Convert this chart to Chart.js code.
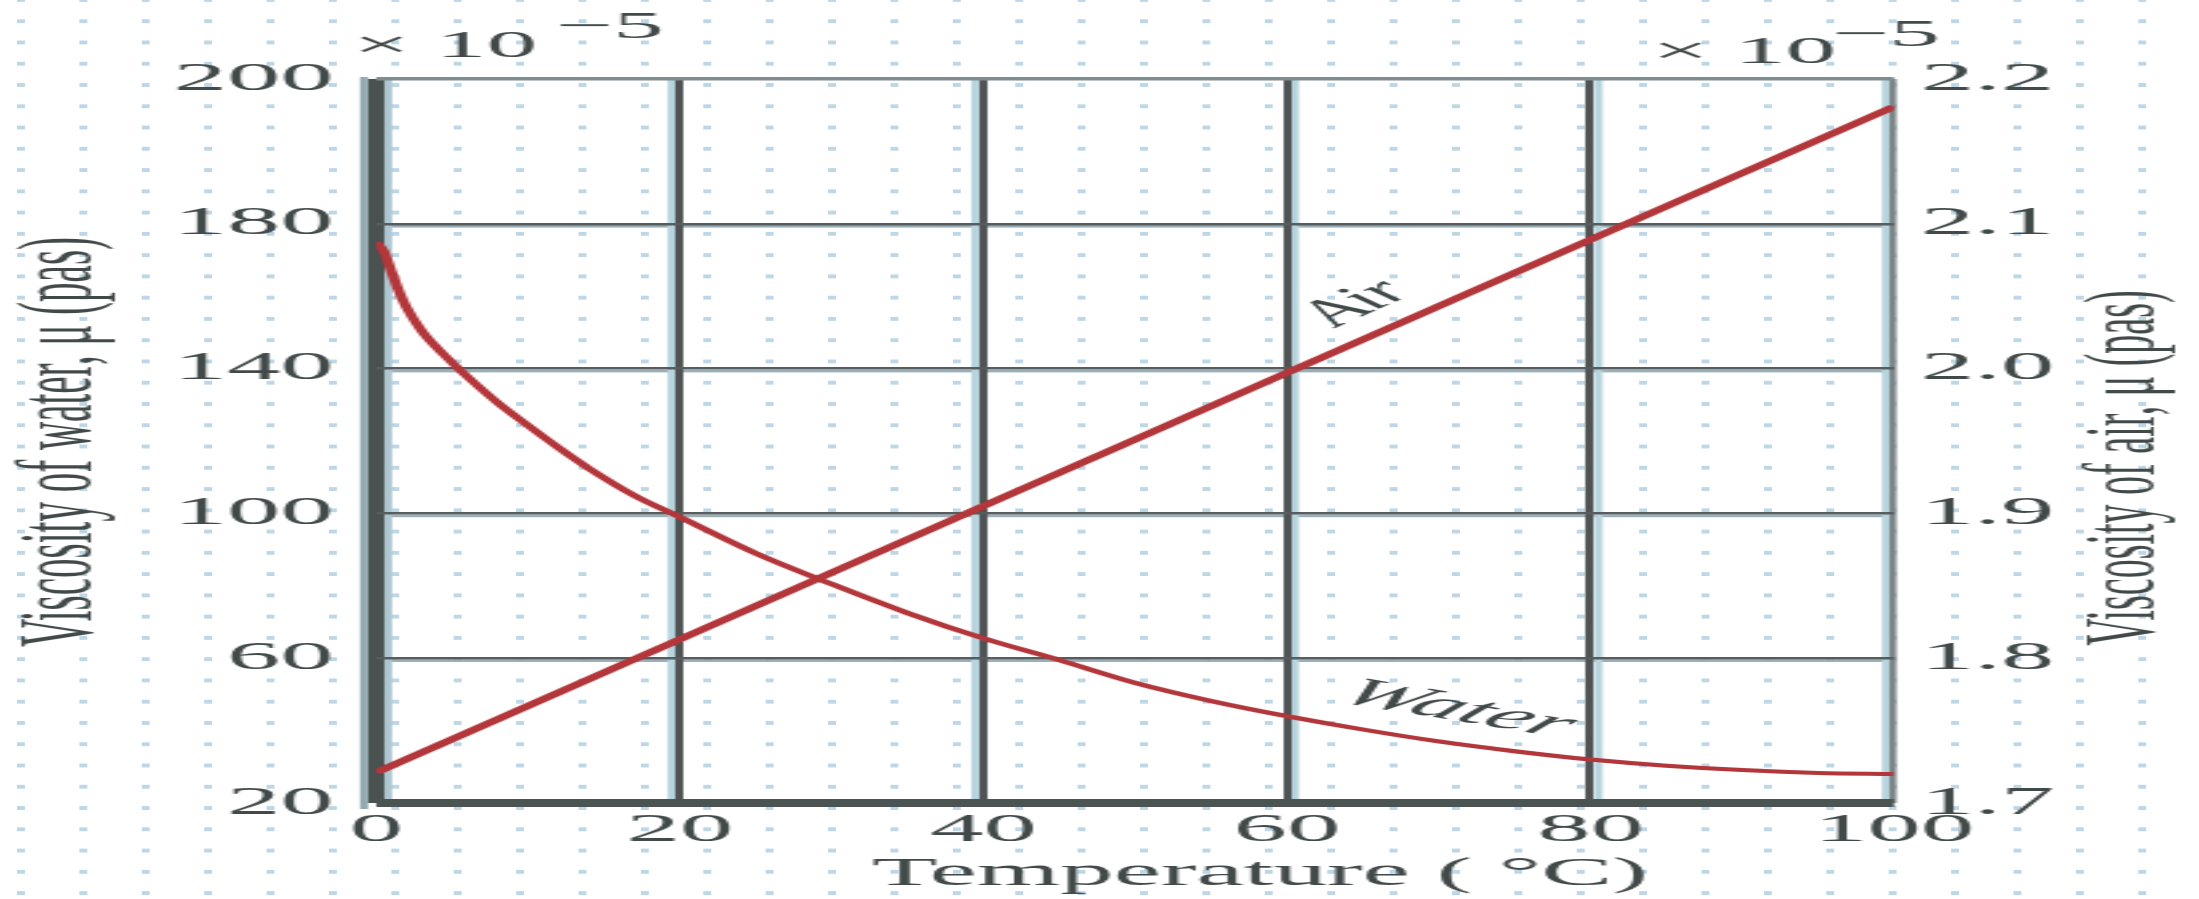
<!DOCTYPE html>
<html>
<head>
<meta charset="utf-8">
<title>Viscosity of water and air</title>
<script src="https://cdn.jsdelivr.net/npm/chart.js@4.4.1/dist/chart.umd.min.js"></script>
<style>
  html, body { margin: 0; padding: 0; }
  body {
    width: 2199px; height: 899px; overflow: hidden; position: relative;
    background-color: #ffffff;
    /* faint graph-paper dashes behind the plot */
    background-image:
      linear-gradient(to bottom, rgba(255,255,255,0) 0px, rgba(255,255,255,0) 4px, #ffffff 4px, #ffffff 100%),
      linear-gradient(to right, #bdd7e6 0px, #bdd7e6 8px, rgba(255,255,255,0) 8px, rgba(255,255,255,0) 100%);
    background-size: 62.4px 21.27px;
    background-position: 17px -2px;
  }
  #chart {
    position: absolute; left: 0; top: 0;
    width: 824px; height: 899px;
    transform: scaleX(2.6687); transform-origin: 0 0;
  }
</style>
</head>
<body>
<canvas id="chart" width="824" height="899" style="width:824px;height:899px"></canvas>
<script>
// Temperature axis
const TEMP_TICKS  = [0, 20, 40, 60, 80, 100];
const TEMP_LABELS = ['0', '20', '40', '60', '80', '100'];

// Water viscosity, left axis (x 10^-5)
const WATER_TICK_LABELS = ['20', '60', '100', '140', '180', '200'];
const waterTemp = [0, 0.5, 1, 1.5, 2, 3, 4, 5, 6, 8, 10, 12, 14, 17, 20, 25, 30, 35, 40, 45, 50, 55, 60, 65, 70, 75, 80, 85, 90, 95, 100];
const waterMu   = [175, 172.5, 167, 161.5, 157, 150.5, 145.8, 141.7, 137.8, 130.6, 124.3, 118.2, 112.5, 105, 99, 89, 80.5, 72.5, 65.5, 59.5, 53.2, 48.2, 44, 40.3, 37, 34.3, 32, 30.3, 29.1, 28.3, 28];

// Air viscosity, right axis (x 10^-5)
const AIR_TICK_LABELS = ['1.7', '1.8', '1.9', '2.0', '2.1', '2.2'];
const airTemp = [0, 20, 40, 60, 80, 100];
const airMu   = [1.721, 1.813, 1.905, 1.997, 2.089, 2.181];

const SERIF = "'Liberation Serif', 'DejaVu Serif', serif";
const INK = '#424949';
const CURVE = '#b3363a';

const toPoints = (xs, ys) => xs.map((x, i) => ({ x: x, y: ys[i] }));

// pale edges that sit beside the ruled lines
const ruleEdges = {
  id: 'ruleEdges',
  beforeDraw(chart) {
    const { ctx, chartArea: a, scales } = chart;
    const x = scales.x, y = scales.yWater;
    ctx.save();
    // under each inner horizontal rule
    ctx.fillStyle = '#9aafb8';
    [60, 100, 140, 180].forEach(v => {
      const py = y.getPixelForValue(v);
      ctx.fillRect(a.left, py + 1.2, a.right - a.left, 2.6);
    });
    // beside the vertical rules
    ctx.fillStyle = '#b6d3de';
    const side = { 20: -1, 40: -1, 60: 1, 80: 1, 100: -1 };
    Object.keys(side).forEach(k => {
      const px = x.getPixelForValue(Number(k));
      const s = side[k];
      ctx.fillRect(s < 0 ? px - 4.5 : px + 1.5, a.top, 3, a.bottom - a.top);
    });
    // left frame edges
    const p0 = x.getPixelForValue(0);
    ctx.fillStyle = '#93a9b0';
    ctx.fillRect(p0 - 6, a.top - 2, 3, a.bottom - a.top + 8);
    ctx.fillStyle = '#adc6d0';
    ctx.fillRect(p0 + 3, a.top, 3, a.bottom - a.top);
    ctx.restore();
  }
};

// axis captions, power-of-ten multipliers and curve names
const captions = {
  id: 'captions',
  afterDraw(chart) {
    const { ctx, scales } = chart;
    const S = 2199 / 824;
    ctx.save();
    ctx.fillStyle = INK;
    ctx.textBaseline = 'middle';
    ctx.textAlign = 'center';

    // x-axis caption
    ctx.font = '40px ' + SERIF;
    ctx.fillText('Temperature ( \u00B0C)', 1260 / S, 874);

    // left caption
    ctx.save();
    ctx.translate(64 / S, 442);
    ctx.rotate(-Math.PI / 2);
    ctx.font = '39px ' + SERIF;
    ctx.fillText('Viscosity of water, \u03BC (pas)', 0, 0);
    ctx.restore();

    // right caption
    ctx.save();
    ctx.translate(2128 / S, 468);
    ctx.rotate(-Math.PI / 2);
    ctx.font = '38px ' + SERIF;
    ctx.fillText('Viscosity of air, \u03BC (pas)', 0, 0);
    ctx.restore();

    // multipliers
    ctx.textAlign = 'left';
    ctx.textBaseline = 'alphabetic';
    ctx.font = '38px ' + SERIF;
    ctx.fillText('\u00D7 10', 353 / S, 57);
    ctx.fillText('\u22125', 556 / S, 38);
    ctx.fillText('\u00D7 10', 1652 / S, 63);
    ctx.fillText('\u22125', 1832 / S, 46);

    // curve names, laid along their curves
    const x = scales.x, yA = scales.yAir, yW = scales.yWater;
    ctx.textAlign = 'center';
    ctx.textBaseline = 'middle';
    ctx.font = 'italic 36px ' + SERIF;
    const airAng = Math.atan2(yA.getPixelForValue(airMu[5]) - yA.getPixelForValue(airMu[0]),
                              x.getPixelForValue(100) - x.getPixelForValue(0));
    ctx.save();
    ctx.translate(x.getPixelForValue(64.7), yA.getPixelForValue(2.045));
    ctx.rotate(airAng);
    ctx.fillText('Air', 0, 0);
    ctx.restore();

    ctx.font = 'italic 39px ' + SERIF;
    const wAng = Math.atan2(yW.getPixelForValue(32) - yW.getPixelForValue(40.3),
                            x.getPixelForValue(80) - x.getPixelForValue(65));
    ctx.save();
    ctx.translate(x.getPixelForValue(71.2), yW.getPixelForValue(45.8));
    ctx.rotate(wAng * 1.2);
    ctx.fillText('Water', 0, 0);
    ctx.restore();

    ctx.restore();
  }
};

const tickFont = { family: SERIF, size: 40 };

new Chart(document.getElementById('chart'), {
  type: 'line',
  data: {
    datasets: [
      {
        label: 'Water',
        data: toPoints(waterTemp, waterMu),
        yAxisID: 'yWater',
        borderColor: CURVE,
        borderWidth: 4,
        pointRadius: 0,
        cubicInterpolationMode: 'monotone',
        fill: false
      },
      {
        label: 'Air',
        data: toPoints(airTemp, airMu),
        yAxisID: 'yAir',
        borderColor: CURVE,
        borderWidth: 5,
        pointRadius: 0,
        fill: false
      }
    ]
  },
  options: {
    responsive: false,
    devicePixelRatio: 1,
    animation: false,
    events: [],
    layout: { padding: { top: 79, left: 0, right: 0, bottom: 0 } },
    plugins: { legend: { display: false }, tooltip: { enabled: false }, title: { display: false } },
    scales: {
      x: {
        type: 'linear', position: 'bottom', min: 0, max: 100,
        afterFit(s) { s.height = 96; },
        ticks: {
          stepSize: 20, autoSkip: false, maxRotation: 0, padding: 3,
          font: tickFont, color: INK,
          callback: (v) => TEMP_LABELS[TEMP_TICKS.indexOf(v)]
        },
        grid: {
          drawTicks: false,
          color: (c) => c.index === 5 ? '#7c8587' : (c.index === 0 ? '#4a5151' : '#4f5353'),
          lineWidth: (c) => c.index === 0 ? 6 : (c.index === 5 ? 2.6 : 3)
        },
        border: { display: false }
      },
      yWater: {
        type: 'linear', position: 'left', min: 20, max: 220,
        afterFit(s) { s.width = 140.9; },
        ticks: {
          stepSize: 40, padding: 16, font: tickFont, color: INK,
          callback: (v, i) => WATER_TICK_LABELS[i]
        },
        grid: {
          drawTicks: false,
          color: (c) => c.index === 0 ? '#4b5353' : (c.index === 5 ? '#7f8d93' : '#575c5e'),
          lineWidth: (c) => c.index === 0 ? 8 : (c.index === 5 ? 3.5 : 2.5)
        },
        border: { display: false }
      },
      yAir: {
        type: 'linear', position: 'right', min: 1.7, max: 2.2,
        afterFit(s) { s.width = 114.3; },
        ticks: {
          stepSize: 0.1, padding: 10, font: tickFont, color: INK,
          callback: (v, i) => AIR_TICK_LABELS[i]
        },
        grid: { display: false, drawTicks: false },
        border: { display: false }
      }
    }
  },
  plugins: [ruleEdges, captions]
});
</script>
</body>
</html>
